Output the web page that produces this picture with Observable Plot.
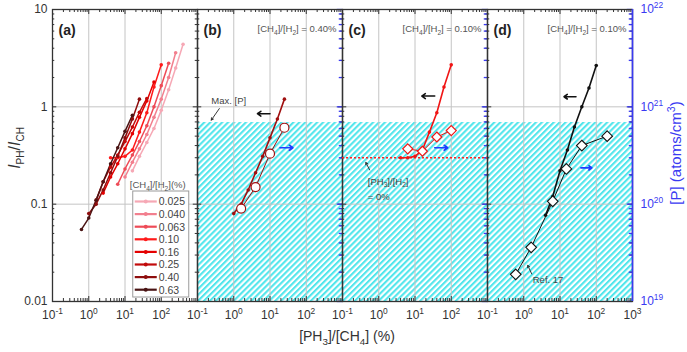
<!DOCTYPE html>
<html><head><meta charset="utf-8">
<script src="https://cdn.jsdelivr.net/npm/d3@7"></script>
<script src="https://cdn.jsdelivr.net/npm/@observablehq/plot@0.6"></script>
<style>
body{margin:0;background:#fff;font-family:"Liberation Sans",Arial,sans-serif;}
</style></head><body><div id="chart"></div>
<script>
// ---------- data ----------
const panelKeys = ["a", "b", "c", "d"];
const ch4Levels = ["0.025", "0.040", "0.063", "0.10", "0.16", "0.25", "0.40", "0.63"];
const seriesColors = ["#f6a8b5", "#f27f8e", "#ee4b57", "#ff1a1a", "#e40000", "#c20a0a", "#8e0d0d", "#4a1414"];
// panel (a): [PH3]/[CH4] (%) and I_PH/I_CH for each [CH4]/[H2]
const seriesX = [
  [16, 25, 40, 63, 100, 160, 250, 400],
  [10, 16, 25, 40, 63, 100, 160, 250],
  [6.3, 10, 16, 25, 40, 63, 100, 160],
  [4, 6.3, 10, 16, 25, 40, 63, 100],
  [2.5, 4, 6.3, 10, 16, 25, 40, 63],
  [1.6, 2.5, 4, 6.3, 10, 16, 25, 40],
  [1, 1.6, 2.5, 4, 6.3, 10, 16, 25],
  [0.63, 1, 1.6, 2.5, 4, 6.3, 10, 16]
];
const seriesY = [
  [0.22, 0.31, 0.43, 0.60, 0.92, 1.5, 2.5, 4.4],
  [0.19, 0.27, 0.37, 0.52, 0.78, 1.2, 2.0, 3.6],
  [0.16, 0.23, 0.32, 0.44, 0.64, 1.0, 1.65, 2.8],
  [0.30, 0.30, 0.31, 0.36, 0.55, 0.87, 1.6, 2.7],
  [0.13, 0.19, 0.26, 0.37, 0.53, 0.78, 1.15, 1.8],
  [0.11, 0.17, 0.24, 0.32, 0.44, 0.62, 0.88, 1.22],
  [0.08, 0.10, 0.14, 0.21, 0.31, 0.48, 0.75, 1.2],
  [0.055, 0.072, 0.11, 0.17, 0.26, 0.38, 0.56, 0.82]
];
// panel (b): [CH4]/[H2] = 0.40 %
const bX = [1, 1.6, 2.5, 4, 6.3, 10, 16, 25];
const bRatio = [0.08, 0.10, 0.14, 0.21, 0.31, 0.48, 0.75, 1.2];
const bPX = [1.6, 4, 10, 25];
const bP = [0.9e20, 1.5e20, 3.3e20, 6.1e20];
// panel (c): [CH4]/[H2] = 0.10 %
const cX = [4, 6.3, 10, 16, 25, 40, 63, 100];
const cRatio = [0.30, 0.30, 0.31, 0.36, 0.55, 0.87, 1.6, 2.7];
const cPX = [6.3, 16, 40, 100];
const cP = [3.7e20, 3.5e20, 4.9e20, 5.7e20];
const cP0 = 3.0e20; // [PH3]/[H2] = 0 %
// panel (d): [CH4]/[H2] = 0.10 %, Ref. 17
const dX = [4, 6.3, 10, 16, 25, 40, 63, 100];
const dRatio = [0.077, 0.12, 0.22, 0.36, 0.62, 1.0, 1.56, 2.66];
const dPX = [0.6, 1.6, 6.3, 15, 40, 200];
const dP = [1.9e19, 3.6e19, 1.07e20, 2.3e20, 4.0e20, 5.0e20];
const maxP = 6.9e20;
const PSCALE = 1e21; // right axis = left axis x 1e21

const xTickVals = [0.1, 1, 10, 100];
const xTickLabels = ["10⁻¹", "10⁰", "10¹", "10²"];
const yTickVals = [0.01, 0.1, 1, 10];
const yTickLabels = ["0.01", "0.1", "1", "10"];
const pTickLabels = ["10¹⁹", "10²⁰", "10²¹", "10²²"];
const panelLabels = ["(a)", "(b)", "(c)", "(d)"];
const condLabels = [{panel: "b", text: "[CH₄]/[H₂] = 0.40%"}, {panel: "c", text: "[CH₄]/[H₂] = 0.10%"}, {panel: "d", text: "[CH₄]/[H₂] = 0.10%"}];
const notes = [
  {panel: "b", x: 0.24, y: 1.15, text: "Max. [P]"},
  {panel: "c", x: 0.5, y: 0.17, text: "[PH₃]/[H₂]"},
  {panel: "c", x: 0.5, y: 0.119, text: "= 0%"},
  {panel: "d", x: 1.77, y: 0.0166, text: "Ref. 17"}
];
const bigArrows = [
  {panel: "b", x1: 10, y1: 0.85, x2: 4.5, y2: 0.85, c: "#111"},
  {panel: "b", x1: 18.8, y1: 0.38, x2: 43, y2: 0.38, c: "#1f3cff"},
  {panel: "c", x1: 35, y1: 1.29, x2: 15.4, y2: 1.29, c: "#111"},
  {panel: "c", x1: 35, y1: 0.38, x2: 80, y2: 0.38, c: "#1f3cff"},
  {panel: "d", x1: 27.6, y1: 1.27, x2: 12.9, y2: 1.27, c: "#111"},
  {panel: "d", x1: 37.6, y1: 0.236, x2: 76, y2: 0.236, c: "#1f3cff"}
];
const pointers = [
  {panel: "b", x1: 0.40, y1: 0.96, x2: 0.24, y2: 0.73},
  {panel: "c", x1: 0.56, y1: 0.225, x2: 0.44, y2: 0.268},
  {panel: "d", x1: 1.66, y1: 0.0192, x2: 1.29, y2: 0.0235}
];

// ---------- build tables ----------
const rowsA = ch4Levels.flatMap((lvl, i) => seriesX[i].map((x, j) => ({panel: "a", level: lvl, x, y: seriesY[i][j]})));
const rowsB = bX.map((x, i) => ({panel: "b", x, y: bRatio[i]}));
const rowsBP = bPX.map((x, i) => ({panel: "b", x, y: bP[i] / PSCALE}));
const rowsC = cX.map((x, i) => ({panel: "c", x, y: cRatio[i]}));
const rowsCP = cPX.map((x, i) => ({panel: "c", x, y: cP[i] / PSCALE}));
const rowsD = dX.map((x, i) => ({panel: "d", x, y: dRatio[i]}));
const rowsDP = dPX.map((x, i) => ({panel: "d", x, y: dP[i] / PSCALE}));

const W = 687, H = 352, mL = 50, mR = 54, mT = 9, mB = 51;
const FW = (W - mL - mR) / 4, FH = H - mT - mB;
const xDomain = [0.1, 1000], yDomain = [0.01, 10];
const BLUE = "#3a3af2", INK = "#333";
const xMinor = d3.range(-1, 3).flatMap(e => d3.range(2, 10).map(m => m * 10 ** e));
const yMinor = d3.range(-2, 1).flatMap(e => d3.range(2, 10).map(m => m * 10 ** e));
const xMajor = [0.1, 1, 10, 100, 1000];
const rightPanels = ["b", "c", "d"];
const blueMajor = rightPanels.flatMap(p => yTickVals.map(v => ({p, v})));
const blueMinor = rightPanels.flatMap(p => yMinor.map(v => ({p, v})));

const chart = Plot.plot({
  width: W, height: H,
  marginLeft: mL, marginRight: mR, marginTop: mT, marginBottom: mB,
  style: {fontFamily: '"Liberation Sans", Arial, sans-serif', fontSize: "12px", color: INK, background: "#fff", overflow: "visible"},
  fx: {domain: panelKeys, padding: 0, axis: null, label: null},
  x: {type: "log", domain: xDomain, axis: null},
  y: {type: "log", domain: yDomain, axis: null},
  color: {domain: ch4Levels, range: seriesColors},
  marks: [
    Plot.rect(rightPanels, {fx: d => d, x1: () => xDomain[0], x2: () => xDomain[1], y1: () => yDomain[0], y2: () => maxP / PSCALE, fill: "url(#hatch)"}),
    Plot.ruleX([1, 10, 100], {stroke: "#c4c4c4", strokeWidth: 1}),
    Plot.ruleY([0.1, 1], {stroke: "#c4c4c4", strokeWidth: 1}),
    // ticks
    Plot.ruleX(xMajor, {insetTop: FH - 5, stroke: INK}),
    Plot.ruleX(xMinor, {insetTop: FH - 3, stroke: INK}),
    Plot.ruleX(xMajor, {insetBottom: FH - 5, stroke: INK}),
    Plot.ruleX(xMinor, {insetBottom: FH - 3, stroke: INK}),
    Plot.ruleY(yTickVals, {insetRight: FW - 5, stroke: INK}),
    Plot.ruleY(yMinor, {insetRight: FW - 3, stroke: INK}),
    Plot.ruleY(yTickVals, {insetLeft: FW - 5, stroke: INK}),
    Plot.ruleY(yMinor, {insetLeft: FW - 3, stroke: INK}),
    Plot.ruleY(blueMajor, {fx: "p", y: "v", insetLeft: FW - 6, stroke: BLUE, strokeWidth: 1.3}),
    Plot.ruleY(blueMinor, {fx: "p", y: "v", insetLeft: FW - 4, stroke: BLUE, strokeWidth: 1.3}),
    Plot.frame({stroke: INK, strokeWidth: 1.3}),
    Plot.ruleX([{p: "d"}], {fx: "p", x: () => xDomain[1], stroke: BLUE, strokeWidth: 1.6}),
    // axes
    Plot.axisY({anchor: "left", ticks: yTickVals, tickSize: 0, tickPadding: 5, label: null, fontSize: 12, tickFormat: d => yTickLabels[yTickVals.indexOf(d)]}),
    Plot.axisY({anchor: "right", ticks: yTickVals, tickSize: 0, tickPadding: 8, label: null, fontSize: 12, color: BLUE, tickFormat: d => pTickLabels[yTickVals.indexOf(d)]}),
    Plot.axisX({ticks: xTickVals, tickSize: 0, tickPadding: 9, label: null, fontSize: 12, tickFormat: d => xTickLabels[xTickVals.indexOf(d)]}),
    Plot.text([{panel: "d", x: 1000, t: "10³"}], {fx: "panel", x: "x", text: "t", frameAnchor: "bottom", dy: 9, lineAnchor: "top", fontSize: 12, fill: INK}),
    // panel (a)
    Plot.line(rowsA, {fx: "panel", x: "x", y: "y", z: "level", stroke: "level", strokeWidth: 1.5}),
    Plot.dot(rowsA, {fx: "panel", x: "x", y: "y", fill: "level", r: 1.8}),
    // panel (b)
    Plot.line(rowsB, {fx: "panel", x: "x", y: "y", stroke: "#a01010", strokeWidth: 1.6}),
    Plot.dot(rowsB, {fx: "panel", x: "x", y: "y", fill: "#a01010", r: 1.8}),
    Plot.line(rowsBP, {fx: "panel", x: "x", y: "y", stroke: "#a01010", strokeWidth: 1}),
    Plot.dot(rowsBP, {fx: "panel", x: "x", y: "y", r: 4.5, fill: "white", stroke: "#a01010", strokeWidth: 1.2}),
    // panel (c)
    Plot.ruleY([{panel: "c", y: cP0 / PSCALE}], {fx: "panel", y: "y", stroke: "#ff2020", strokeWidth: 1.5, strokeDasharray: "2,2"}),
    Plot.line(rowsC, {fx: "panel", x: "x", y: "y", stroke: "#f01515", strokeWidth: 1.6}),
    Plot.dot(rowsC, {fx: "panel", x: "x", y: "y", fill: "#f01515", r: 1.8}),
    Plot.line(rowsCP, {fx: "panel", x: "x", y: "y", stroke: "#f01515", strokeWidth: 1}),
    Plot.dot(rowsCP, {fx: "panel", x: "x", y: "y", symbol: "diamond2", r: 4.5, fill: "white", stroke: "#f01515", strokeWidth: 1.2}),
    // panel (d)
    Plot.line(rowsD, {fx: "panel", x: "x", y: "y", stroke: "#111", strokeWidth: 1.6}),
    Plot.dot(rowsD, {fx: "panel", x: "x", y: "y", fill: "#111", r: 1.8}),
    Plot.line(rowsDP, {fx: "panel", x: "x", y: "y", stroke: "#111", strokeWidth: 1}),
    Plot.dot(rowsDP, {fx: "panel", x: "x", y: "y", symbol: "diamond2", r: 4.8, fill: "white", stroke: "#111", strokeWidth: 1.1}),
    // annotations
    Plot.arrow(bigArrows, {fx: "panel", x1: "x1", y1: "y1", x2: "x2", y2: "y2", stroke: "c", strokeWidth: 1.6, headLength: 5, headAngle: 70}),
    Plot.arrow(pointers, {fx: "panel", x1: "x1", y1: "y1", x2: "x2", y2: "y2", stroke: "#222", strokeWidth: 0.9, headLength: 4, headAngle: 60}),
    Plot.text(notes, {fx: "panel", x: "x", y: "y", text: "text", textAnchor: "start", fontSize: 9.5, fill: "#444"}),
    Plot.text(panelKeys.map((p, i) => ({panel: p, t: panelLabels[i]})), {fx: "panel", text: "t", frameAnchor: "top-left", dx: 6, dy: 16, textAnchor: "start", fontSize: 14, fontWeight: "bold", fill: "#222"}),
    Plot.text(condLabels, {fx: "panel", text: "text", frameAnchor: "top-right", dx: -6, dy: 16, textAnchor: "end", fontSize: 9.5, fill: "#555"})
  ]
});
document.getElementById("chart").append(chart);
const svg = chart.tagName.toLowerCase() === "svg" ? chart : chart.querySelector("svg");
const s = d3.select(svg);
const ns = "http://www.w3.org/2000/svg";

// hatch pattern
const defs = s.insert("defs", ":first-child");
const pat = defs.append("pattern").attr("id", "hatch").attr("patternUnits", "userSpaceOnUse")
  .attr("width", 4.2).attr("height", 4.2).attr("patternTransform", "rotate(45)");
pat.append("rect").attr("width", 4.2).attr("height", 4.2).attr("fill", "#ffffff");
pat.append("rect").attr("width", 2.1).attr("height", 4.2).attr("fill", "#52e6ec");

// rich text (sup / sub)
const SUP = {"⁻": "-", "⁰": "0", "¹": "1", "²": "2", "³": "3", "⁴": "4", "⁵": "5", "⁶": "6", "⁷": "7", "⁸": "8", "⁹": "9"};
const SUB = {"₀": "0", "₁": "1", "₂": "2", "₃": "3", "₄": "4"};
function richify(el, fsOverride) {
  const str = el.textContent;
  if (![...str].some(c => SUP[c] || SUB[c])) return;
  const fs = fsOverride || parseFloat(getComputedStyle(el).fontSize) || 12;
  const runs = [];
  for (const c of str) {
    const kind = SUP[c] ? "sup" : SUB[c] ? "sub" : "n";
    const ch = SUP[c] || SUB[c] || c;
    if (runs.length && runs[runs.length - 1].kind === kind) runs[runs.length - 1].t += ch;
    else runs.push({kind, t: ch});
  }
  el.textContent = "";
  let cur = 0;
  for (const r of runs) {
    const target = r.kind === "sup" ? -0.42 * fs : r.kind === "sub" ? 0.28 * fs : 0;
    const ts = document.createElementNS(ns, "tspan");
    if (target !== cur) ts.setAttribute("dy", (target - cur).toFixed(2));
    if (r.kind !== "n") ts.setAttribute("font-size", (0.7 * fs).toFixed(1));
    ts.textContent = r.t;
    el.appendChild(ts);
    cur = target;
  }
}
svg.querySelectorAll("text").forEach(t => richify(t));

function richText(parent, str, attrs, fs) {
  const t = parent.append("text");
  for (const k in attrs) t.attr(k, attrs[k]);
  t.attr("font-size", fs);
  t.text(str);
  richify(t.node(), fs);
  return t;
}
// axis titles
richText(s, "[PH₃]/[CH₄] (%)", {x: 347, y: 341, "text-anchor": "middle", fill: INK}, 14);
const yt = s.append("text").attr("transform", "translate(20,148) rotate(-90)").attr("text-anchor", "middle").attr("font-size", 16).attr("fill", INK);
yt.append("tspan").attr("font-style", "italic").text("I");
yt.append("tspan").attr("font-size", 10).attr("dy", 4).text("PH");
yt.append("tspan").attr("dy", -4).text("/");
yt.append("tspan").attr("font-style", "italic").text("I");
yt.append("tspan").attr("font-size", 10).attr("dy", 4).text("CH");
richText(s, "[P] (atoms/cm³)", {transform: "translate(681,153) rotate(-90)", "text-anchor": "middle", fill: BLUE}, 15);

// legend in panel (a)
const lg = s.append("g").attr("text-anchor", "start");
const bx = mL + FW - 63, by = 191, bw = 56, bh = 106;
lg.append("rect").attr("x", bx).attr("y", by).attr("width", bw).attr("height", bh).attr("fill", "white").attr("stroke", "#9a9a9a").attr("stroke-width", 1);
richText(lg, "[CH₄]/[H₂](%)", {x: bx - 3, y: by - 3, fill: "#555", "text-anchor": "start"}, 9.5);
ch4Levels.forEach((lvl, i) => {
  const yy = by + 10.5 + i * 12.6;
  lg.append("line").attr("x1", bx + 2).attr("x2", bx + 24).attr("y1", yy).attr("y2", yy).attr("stroke", seriesColors[i]).attr("stroke-width", 2.2);
  lg.append("circle").attr("cx", bx + 13).attr("cy", yy).attr("r", 2).attr("fill", seriesColors[i]);
  lg.append("text").attr("x", bx + 26).attr("y", yy + 3.8).attr("text-anchor", "start").attr("font-size", 10.5).attr("fill", "#444").text(lvl);
});
</script></body></html>
